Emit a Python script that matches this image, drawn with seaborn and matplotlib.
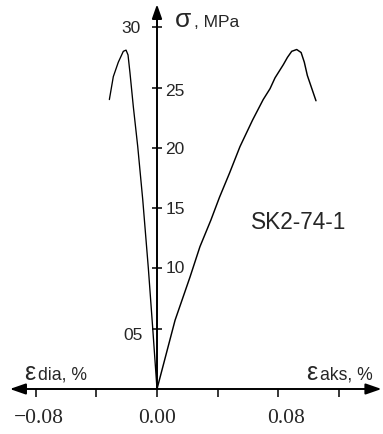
import matplotlib
matplotlib.use("Agg")
import matplotlib.pyplot as plt
import seaborn as sns
import pandas as pd

# ---- data (strain in %, stress in MPa) ----
aks_strain = [0.0, 0.0119, 0.0218, 0.0283, 0.0355, 0.0412, 0.0478, 0.0547, 0.0630,
              0.0700, 0.0745, 0.0778, 0.0833, 0.0860, 0.0888, 0.0921, 0.0950, 0.0971,
              0.0991, 0.1048]
aks_stress = [0.0, 5.7, 9.3, 11.8, 14.0, 15.9, 17.9, 20.1, 22.3,
              24.0, 24.9, 25.8, 26.9, 27.5, 28.0, 28.15, 27.9, 27.1,
              26.0, 23.9]

dia_strain = [0.0, -0.0028, -0.0057, -0.0094, -0.0127, -0.0156,
              -0.0178, -0.0191, -0.0204, -0.0222, -0.0255, -0.0288, -0.0314]
dia_stress = [0.0, 5.0, 10.0, 15.7, 20.1, 23.4,
              26.2, 27.7, 28.1, 28.0, 27.1, 25.9, 24.0]

x_ticks = [-0.08, -0.04, 0.0, 0.04, 0.08, 0.12]
x_tick_labels = ["\u22120.08", "", "0.00", "", "0.08", ""]
y_ticks = [5, 10, 15, 20, 25, 30]
y_tick_labels = ["05", "10", "15", "20", "25", "30"]
specimen = "SK2-74-1"

# ---- figure ----
W, H = 383, 434
sns.set_style("white")
plt.rcParams["font.family"] = ["Liberation Sans", "DejaVu Sans"]

fig = plt.figure(figsize=(W / 100, H / 100), dpi=100)
ax = fig.add_axes([0, 0, 1, 1])

px_per_strain = 1517.0
px_per_mpa = 12.06
x0_px, y0_px = 157.0, 389.0
ax.set_xlim(-x0_px / px_per_strain, (W - x0_px) / px_per_strain)
ax.set_ylim(-(H - y0_px) / px_per_mpa, y0_px / px_per_mpa)

df_a = pd.DataFrame({"strain": aks_strain, "stress": aks_stress})
df_d = pd.DataFrame({"strain": dia_strain, "stress": dia_stress})
sns.lineplot(data=df_a, x="strain", y="stress", sort=False, estimator=None,
             color="black", lw=1.05, ax=ax)
sns.lineplot(data=df_d, x="strain", y="stress", sort=False, estimator=None,
             color="black", lw=0.95, ax=ax)
ax.set_xlabel("")
ax.set_ylabel("")

# axes through origin
for s in ax.spines.values():
    s.set_visible(False)
ax.spines["left"].set_position(("data", 0))
ax.spines["bottom"].set_position(("data", 0))
ax.set_facecolor("white")

ax.set_xticks(x_ticks)
ax.set_xticklabels([])
ax.set_yticks(y_ticks)
ax.set_yticklabels([])
ax.tick_params(axis="x", bottom=True, top=False, direction="out", length=5.8,
               width=1.1, color="black")
ax.tick_params(axis="y", left=True, right=False, direction="inout", length=6.5,
               width=1.1, color="black")

arrow_style = "-|>,head_length=0.95,head_width=0.33"
ax.annotate("", xy=(0.148, 0), xytext=(0, 0),
            arrowprops=dict(arrowstyle=arrow_style, color="black", lw=1.4,
                            shrinkA=0, shrinkB=0))
ax.annotate("", xy=(-0.097, 0), xytext=(0, 0),
            arrowprops=dict(arrowstyle=arrow_style, color="black", lw=1.4,
                            shrinkA=0, shrinkB=0))
ax.annotate("", xy=(0, 31.9), xytext=(0, 0),
            arrowprops=dict(arrowstyle="-|>,head_length=0.85,head_width=0.3",
                            color="black", lw=1.4, shrinkA=0, shrinkB=0))

# x tick labels (serif)
x_lab_dx = [2.0, 0, 0, 0, 5.5, 0]
for v, lab, dx in zip(x_ticks, x_tick_labels, x_lab_dx):
    if lab:
        ax.annotate(lab, xy=(v, 0), xytext=(dx, -24.3), textcoords="offset points",
                    ha="center", va="baseline", fontsize=15.5,
                    family=["Liberation Serif", "DejaVu Serif"])

# y tick labels
y_lab_dx = [-10.3, 6.5, 6.0, 6.0, 6.0, -11.5]
y_lab_dy = [-8.0, -3.0, -4.4, -4.4, -5.8, -4.4]
for v, lab, dx, dy in zip(y_ticks, y_tick_labels, y_lab_dx, y_lab_dy):
    ax.annotate(lab, xy=(0, v), xytext=(dx, dy), textcoords="offset points",
                ha="right" if dx < 0 else "left", va="baseline", fontsize=12.5)


def ptext(px, py, s, **kw):
    fig.text(px / W, 1 - py / H, s, **kw)


ptext(175, 27, "\u03c3", fontsize=19, va="baseline", ha="left")
ptext(194, 27, ", MPa", fontsize=12.5, va="baseline", ha="left")

ptext(24, 380, "\u03b5", fontsize=18, va="baseline", ha="left")
ptext(38, 380, "dia, %", fontsize=12.7, va="baseline", ha="left")
ptext(306, 380, "\u03b5", fontsize=18, va="baseline", ha="left")
ptext(320, 380, "aks, %", fontsize=12.7, va="baseline", ha="left")

ptext(250.5, 229, specimen, fontsize=16.3, va="baseline", ha="left")

fig.savefig("out.png", dpi=100, facecolor="white")
